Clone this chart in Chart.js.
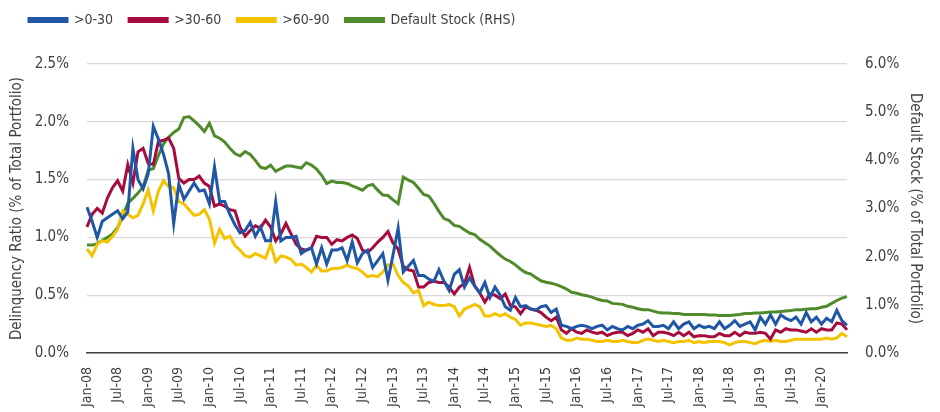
<!DOCTYPE html>
<html>
<head>
<meta charset="utf-8">
<script src="https://cdn.jsdelivr.net/npm/chart.js@4.4.1/dist/chart.umd.min.js"></script>
<style>
  html, body { margin: 0; padding: 0; background: #fff; }
  #wrap { width: 940px; height: 412px; }
</style>
</head>
<body>
<div id="wrap"><canvas id="chart"></canvas></div>
<script>
// months Jan-08 .. Jun-20
const monthNames = ['Jan','Feb','Mar','Apr','May','Jun','Jul','Aug','Sep','Oct','Nov','Dec'];
const startYear = 2008;
const monthCount = 150;

// >0-30 days delinquency (% of total portfolio)
const dpd0to30 = [
  1.26,1.14,1.00,1.14,1.17,1.20,1.23,1.16,1.22,1.77,1.50,1.42,
  1.55,1.96,1.85,1.72,1.55,1.12,1.46,1.33,1.40,1.47,1.40,1.41,
  1.29,1.61,1.31,1.31,1.20,1.11,1.04,1.06,1.13,1.01,1.09,0.97,
  0.97,1.31,0.97,1.00,1.00,1.01,0.86,0.89,0.91,0.77,0.91,0.77,
  0.89,0.89,0.91,0.80,0.96,0.78,0.86,0.89,0.74,0.80,0.86,0.63,
  0.85,1.08,0.70,0.75,0.80,0.67,0.67,0.64,0.62,0.72,0.62,0.54,
  0.68,0.72,0.57,0.65,0.58,0.52,0.61,0.48,0.57,0.50,0.40,0.37,
  0.48,0.40,0.41,0.38,0.37,0.40,0.41,0.35,0.38,0.24,0.23,0.21,
  0.23,0.24,0.23,0.21,0.23,0.24,0.20,0.23,0.21,0.20,0.23,0.21,
  0.24,0.25,0.28,0.23,0.23,0.24,0.21,0.27,0.21,0.25,0.27,0.21,
  0.24,0.22,0.23,0.21,0.27,0.21,0.24,0.28,0.23,0.25,0.27,0.20,
  0.31,0.25,0.33,0.25,0.33,0.30,0.28,0.31,0.25,0.35,0.27,0.31,
  0.25,0.30,0.27,0.37,0.28,0.24
];

// >30-60 days
const dpd30to60 = [
  1.09,1.20,1.25,1.21,1.34,1.43,1.49,1.40,1.63,1.47,1.74,1.77,
  1.64,1.63,1.83,1.84,1.86,1.77,1.51,1.47,1.50,1.50,1.53,1.47,
  1.44,1.27,1.29,1.27,1.24,1.23,1.09,1.01,1.06,1.10,1.08,1.15,
  1.09,0.97,1.03,1.12,1.03,0.94,0.90,0.89,0.91,1.01,1.00,1.00,
  0.94,0.98,0.97,1.00,1.02,0.99,0.89,0.87,0.91,0.96,1.00,1.05,
  0.95,0.90,0.75,0.72,0.71,0.57,0.57,0.61,0.62,0.61,0.61,0.57,
  0.51,0.57,0.60,0.74,0.58,0.52,0.44,0.51,0.50,0.47,0.51,0.41,
  0.40,0.34,0.40,0.38,0.37,0.35,0.31,0.28,0.31,0.20,0.17,0.21,
  0.18,0.17,0.20,0.18,0.17,0.18,0.15,0.17,0.18,0.18,0.15,0.17,
  0.20,0.18,0.21,0.15,0.18,0.18,0.17,0.15,0.18,0.15,0.18,0.14,
  0.15,0.15,0.14,0.14,0.17,0.15,0.15,0.18,0.15,0.18,0.17,0.17,
  0.18,0.17,0.12,0.20,0.18,0.21,0.20,0.20,0.19,0.18,0.21,0.18,
  0.21,0.20,0.20,0.26,0.25,0.20
];

// >60-90 days
const dpd60to90 = [
  0.90,0.84,0.94,0.97,0.96,1.01,1.07,1.23,1.20,1.17,1.19,1.29,
  1.41,1.23,1.40,1.49,1.44,1.43,1.31,1.29,1.24,1.19,1.20,1.24,
  1.16,0.95,1.07,0.99,1.01,0.93,0.89,0.84,0.83,0.86,0.84,0.82,
  0.94,0.79,0.84,0.83,0.81,0.76,0.77,0.74,0.70,0.76,0.71,0.71,
  0.73,0.73,0.74,0.76,0.74,0.73,0.70,0.66,0.67,0.66,0.70,0.76,
  0.77,0.67,0.61,0.58,0.52,0.54,0.41,0.44,0.42,0.41,0.41,0.42,
  0.40,0.32,0.38,0.40,0.42,0.40,0.32,0.32,0.34,0.32,0.34,0.31,
  0.29,0.24,0.26,0.26,0.25,0.24,0.23,0.24,0.21,0.13,0.11,0.11,
  0.13,0.12,0.12,0.11,0.10,0.10,0.11,0.10,0.10,0.11,0.10,0.09,
  0.09,0.11,0.12,0.11,0.10,0.11,0.10,0.09,0.10,0.10,0.11,0.09,
  0.10,0.09,0.10,0.10,0.10,0.09,0.07,0.09,0.10,0.10,0.09,0.08,
  0.10,0.11,0.10,0.11,0.10,0.10,0.11,0.12,0.12,0.12,0.12,0.12,
  0.12,0.13,0.12,0.13,0.17,0.14
];

// default stock, right-hand scale
const defaultStock = [
  2.24,2.24,2.27,2.34,2.40,2.47,2.60,2.84,3.11,3.21,3.32,3.45,
  3.79,3.83,4.10,4.34,4.48,4.58,4.65,4.89,4.91,4.82,4.72,4.60,
  4.77,4.51,4.46,4.38,4.25,4.14,4.09,4.18,4.12,4.00,3.86,3.83,
  3.90,3.77,3.83,3.88,3.88,3.86,3.84,3.95,3.90,3.82,3.69,3.52,
  3.57,3.54,3.54,3.52,3.47,3.43,3.38,3.47,3.50,3.38,3.28,3.27,
  3.18,3.10,3.65,3.59,3.54,3.42,3.29,3.26,3.11,2.94,2.79,2.75,
  2.65,2.63,2.56,2.49,2.46,2.36,2.29,2.22,2.12,2.03,1.95,1.90,
  1.83,1.74,1.67,1.64,1.57,1.50,1.47,1.45,1.42,1.38,1.33,1.26,
  1.24,1.21,1.19,1.16,1.12,1.09,1.08,1.03,1.02,1.01,0.97,0.95,
  0.92,0.90,0.90,0.87,0.84,0.83,0.83,0.82,0.82,0.80,0.80,0.80,
  0.80,0.80,0.79,0.79,0.78,0.78,0.78,0.79,0.80,0.82,0.82,0.83,
  0.83,0.84,0.85,0.85,0.86,0.87,0.88,0.90,0.90,0.91,0.92,0.92,
  0.95,0.97,1.03,1.09,1.14,1.17
];

const leftTicks = [0, 0.5, 1.0, 1.5, 2.0, 2.5];
const rightTicks = [0, 1, 2, 3, 4, 5, 6];

const labels = [];
for (let i = 0; i < monthCount; i++) {
  const y = startYear + Math.floor(i / 12);
  labels.push(monthNames[i % 12] + '-' + String(y % 100).padStart(2, '0'));
}

const FONT = '"Liberation Sans Narrow", "DejaVu Sans Condensed", Roboto, sans-serif';
const TEXT = '#404040';
Chart.defaults.font.family = FONT;
Chart.defaults.font.size = 14;
Chart.defaults.color = TEXT;

// extra room under the legend, and nudge the legend to where the original has it
const legendGap = {
  id: 'legendGap',
  afterInit(chart) {
    const fit = chart.legend.fit;
    chart.legend.fit = function () {
      fit.call(this);
      this.height += 24;
    };
  },
  afterLayout(chart) {
    chart.legend.left += 7;
    chart.legend.top -= 3;
  }
};

function line(label, data, color, axis) {
  return {
    label: label,
    data: data,
    yAxisID: axis,
    borderColor: color,
    backgroundColor: color,
    borderWidth: 3,
    pointRadius: 0,
    tension: 0,
    fill: false
  };
}

new Chart(document.getElementById('chart'), {
  type: 'line',
  data: {
    labels: labels,
    datasets: [
      line('>0-30', dpd0to30, '#1f56a5', 'y'),
      line('>30-60', dpd30to60, '#a50b3c', 'y'),
      line('>60-90', dpd60to90, '#f5c200', 'y'),
      line('Default Stock (RHS)', defaultStock, '#4f8a2b', 'y2')
    ]
  },
  plugins: [legendGap],
  options: {
    responsive: true,
    maintainAspectRatio: false,
    animation: false,
    layout: { padding: { left: 6, right: 14, top: 0, bottom: 0 } },
    plugins: {
      legend: {
        position: 'top',
        align: 'start',
        labels: {
          boxWidth: 38,
          boxHeight: 3,
          padding: 16,
          font: { size: 14 },
          color: TEXT
        }
      },
      tooltip: { enabled: false }
    },
    scales: {
      x: {
        offset: false,
        grid: { display: false },
        border: { display: true, color: '#404040', width: 1.5 },
        ticks: {
          autoSkip: false,
          maxRotation: 90,
          minRotation: 90,
          padding: 6,
          font: { size: 14 },
          callback: function (v, i) { return i % 6 === 0 ? labels[i] : null; }
        },
        afterFit: function (s) { s.height = 59; }
      },
      y: {
        position: 'left',
        min: 0,
        max: 2.5,
        afterBuildTicks: function (s) { s.ticks = leftTicks.map(v => ({ value: v })); },
        grid: { color: '#d9d9d9', lineWidth: 1.2, drawTicks: false },
        border: { display: false },
        ticks: {
          padding: 18,
          font: { size: 15 },
          callback: v => v.toFixed(1) + '%'
        },
        title: {
          display: true,
          text: 'Delinquency Ratio (% of Total Portfolio)',
          font: { size: 15 },
          padding: 2
        },
        afterFit: function (s) { s.width = 81; }
      },
      y2: {
        position: 'right',
        min: 0,
        max: 6,
        afterBuildTicks: function (s) { s.ticks = rightTicks.map(v => ({ value: v })); },
        grid: { display: false, drawTicks: false },
        border: { display: false },
        ticks: {
          padding: 18,
          font: { size: 15 },
          callback: v => v.toFixed(1) + '%'
        },
        title: {
          display: true,
          text: 'Default Stock (% of Total Portfolio)',
          font: { size: 15 },
          padding: 2
        },
        afterFit: function (s) { s.width = 79; }
      }
    }
  }
});
</script>
</body>
</html>
